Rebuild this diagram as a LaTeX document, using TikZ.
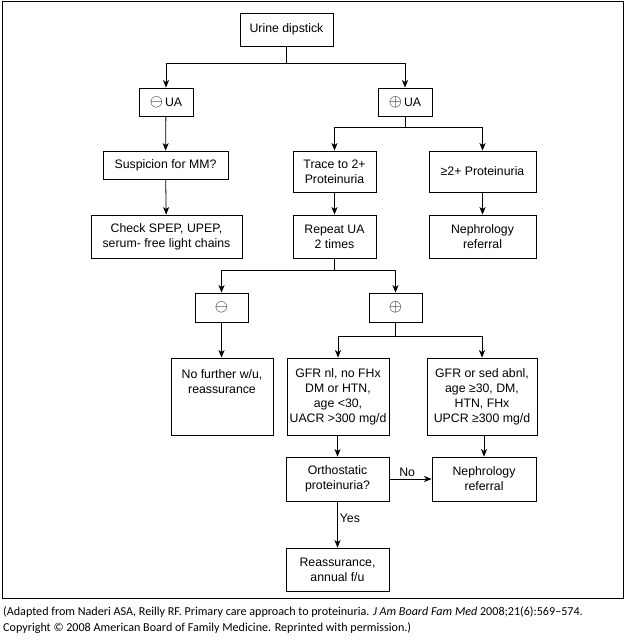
\documentclass[tikz,border=0pt]{standalone}
\usepackage{fontspec}
\setmainfont{Liberation Sans}
\newfontfamily\capfont{Carlito}
\usetikzlibrary{arrows.meta,positioning}
\newcommand\cmin{\scalebox{1.4}{$\ominus$}}
\newcommand\cplus{\scalebox{1.4}{$\oplus$}}
\tikzset{
  box/.style ={rectangle, draw=black, line width=0.8pt, fill=white, align=center,
               inner sep=0pt, font=\fontsize{12.3}{15}\selectfont},
  ar/.style  ={-{Stealth[length=7.5pt,width=6pt,inset=2pt]}, line width=0.8pt},
  ln/.style  ={line width=0.8pt},
  lbl/.style ={font=\fontsize{12.3}{15}\selectfont, inner sep=2pt}
}
\begin{document}
\begin{tikzpicture}[x=1pt,y=-1pt]
\useasboundingbox (0,0) rectangle (626,642);
\draw[line width=0.9pt] (2.5,1.5) rectangle (623.5,598.5);
\node[box, minimum width=93pt, minimum height=33pt] (dip) at (286.5,29.5) {Urine dipstick};
\node[box, minimum width=54pt, minimum height=28pt] (negua) at (166,102) {\cmin\,UA};
\node[box, minimum width=54pt, minimum height=28pt] (posua) at (405,102) {\cplus\,UA};
\node[box, minimum width=125pt, minimum height=28pt] (mm) at (165.5,165) {Suspicion for MM?};
\node[box, minimum width=151pt, minimum height=43pt] (spep) at (166.5,236.5) {Check SPEP, UPEP,\\serum- free light chains};
\node[box, minimum width=83pt, minimum height=41pt] (trace) at (334.5,171.5) {Trace to 2+\\Proteinuria};
\node[box, minimum width=107pt, minimum height=41pt] (ge2) at (482.5,171.5) {≥2+ Proteinuria};
\node[box, minimum width=83pt, minimum height=43pt] (rep) at (334.5,236.5) {Repeat UA\\2 times};
\node[box, minimum width=107pt, minimum height=43pt] (neph) at (482.5,236.5) {Nephrology\\referral};
\node[box, minimum width=53pt, minimum height=29pt] (neg) at (221.5,307.5) {\cmin};
\node[box, minimum width=53pt, minimum height=29pt] (pos) at (395.5,307.5) {\cplus};
\node[box, minimum width=102pt, minimum height=77pt] (nofu) at (222,396.5) {No further w/u,\\reassurance\\~\\~};
\node[box, minimum width=102pt, minimum height=77pt] (gfrnl) at (338,396.5) {GFR nl, no FHx\\DM or HTN,\\age <30,\\UACR >300 mg/d};
\node[box, minimum width=110pt, minimum height=77pt] (gfrab) at (482,396.5) {GFR or sed abnl,\\age ≥30, DM,\\HTN, FHx\\UPCR ≥300 mg/d};
\node[box, minimum width=103pt, minimum height=44pt] (ortho) at (337.5,479) {Orthostatic\\proteinuria?};
\node[box, minimum width=104pt, minimum height=44pt] (neph2) at (484,479) {Nephrology\\referral};
\node[box, minimum width=103pt, minimum height=43pt] (reas) at (337.5,569.5) {Reassurance,\\annual f/u};
\coordinate (s1) at (286.5,63);
\coordinate (s2) at (405,127);
\coordinate (s3) at (334.5,270);
\coordinate (s4) at (395.5,336);
\draw[ln] (dip) -- (s1);
\draw[ar] (s1) -| (negua);
\draw[ar] (s1) -| (posua);
\draw[ar] (negua) -- (mm);
\draw[ar] (mm) -- (spep);
\draw[ln] (posua) -- (s2);
\draw[ar] (s2) -| (trace);
\draw[ar] (s2) -| (ge2);
\draw[ar] (trace) -- (rep);
\draw[ar] (ge2) -- (neph);
\draw[ln] (rep) -- (s3);
\draw[ar] (s3) -| (neg);
\draw[ar] (s3) -| (pos);
\draw[ar] (neg) -- (neg |- nofu.north);
\draw[ln] (pos) -- (s4);
\draw[ar] (s4) -| (gfrnl);
\draw[ar] (s4) -| (gfrab);
\draw[ar] (gfrnl.south -| ortho) -- (ortho);
\draw[ar] (gfrab.south -| neph2) -- (neph2);
\draw[ar] (ortho) -- node[lbl, above, pos=0.42] {No} (neph2);
\draw[ar] (ortho) -- node[lbl, right, pos=0.37] {Yes} (reas);
\node[anchor=north west, align=left, inner sep=0pt, font=\capfont\fontsize{12.1}{16}\selectfont] (cap) at (3,606)
  {(Adapted from Naderi ASA, Reilly RF. Primary care approach to proteinuria. \textit{J Am Board Fam Med} 2008;21(6):569–574.\\
   Copyright © 2008 American Board of Family Medicine. Reprinted with permission.)};
\end{tikzpicture}
\end{document}
